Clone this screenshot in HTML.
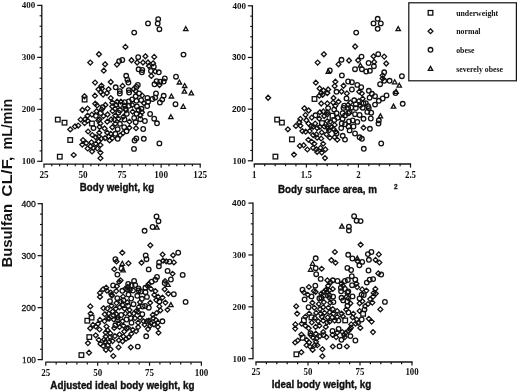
<!DOCTYPE html>
<html><head><meta charset="utf-8"><style>
html,body{margin:0;padding:0;background:#fff;width:520px;height:392px;overflow:hidden}
svg{display:block;will-change:transform}
text{fill:#111}
</style></head><body>
<svg width="520" height="392" viewBox="0 0 520 392"><line x1="41.8" y1="4.80" x2="41.8" y2="161.90" stroke="#111" stroke-width="1.3"/>
<line x1="37.20" y1="161.30" x2="41.8" y2="161.30" stroke="#111" stroke-width="1.2"/>
<line x1="39.60" y1="150.91" x2="41.8" y2="150.91" stroke="#111" stroke-width="1.1"/>
<line x1="39.60" y1="140.51" x2="41.8" y2="140.51" stroke="#111" stroke-width="1.1"/>
<line x1="39.60" y1="130.12" x2="41.8" y2="130.12" stroke="#111" stroke-width="1.1"/>
<line x1="39.60" y1="119.73" x2="41.8" y2="119.73" stroke="#111" stroke-width="1.1"/>
<line x1="37.20" y1="109.33" x2="41.8" y2="109.33" stroke="#111" stroke-width="1.2"/>
<line x1="39.60" y1="98.94" x2="41.8" y2="98.94" stroke="#111" stroke-width="1.1"/>
<line x1="39.60" y1="88.55" x2="41.8" y2="88.55" stroke="#111" stroke-width="1.1"/>
<line x1="39.60" y1="78.15" x2="41.8" y2="78.15" stroke="#111" stroke-width="1.1"/>
<line x1="39.60" y1="67.76" x2="41.8" y2="67.76" stroke="#111" stroke-width="1.1"/>
<line x1="37.20" y1="57.37" x2="41.8" y2="57.37" stroke="#111" stroke-width="1.2"/>
<line x1="39.60" y1="46.97" x2="41.8" y2="46.97" stroke="#111" stroke-width="1.1"/>
<line x1="39.60" y1="36.58" x2="41.8" y2="36.58" stroke="#111" stroke-width="1.1"/>
<line x1="39.60" y1="26.19" x2="41.8" y2="26.19" stroke="#111" stroke-width="1.1"/>
<line x1="39.60" y1="15.79" x2="41.8" y2="15.79" stroke="#111" stroke-width="1.1"/>
<line x1="37.20" y1="5.40" x2="41.8" y2="5.40" stroke="#111" stroke-width="1.2"/>
<text x="35.2" y="164.30" text-anchor="end" font-family="Liberation Serif" font-weight="bold" font-size="9">100</text>
<text x="35.2" y="112.33" text-anchor="end" font-family="Liberation Serif" font-weight="bold" font-size="9">200</text>
<text x="35.2" y="60.37" text-anchor="end" font-family="Liberation Serif" font-weight="bold" font-size="9">300</text>
<text x="35.2" y="8.40" text-anchor="end" font-family="Liberation Serif" font-weight="bold" font-size="9">400</text>
<line x1="43.40" y1="164.1" x2="200.80" y2="164.1" stroke="#111" stroke-width="1.3"/>
<line x1="44.00" y1="164.1" x2="44.00" y2="167.70" stroke="#111" stroke-width="1.2"/>
<line x1="51.81" y1="164.1" x2="51.81" y2="166.30" stroke="#111" stroke-width="1.2"/>
<line x1="59.62" y1="164.1" x2="59.62" y2="166.30" stroke="#111" stroke-width="1.2"/>
<line x1="67.43" y1="164.1" x2="67.43" y2="166.30" stroke="#111" stroke-width="1.2"/>
<line x1="75.24" y1="164.1" x2="75.24" y2="166.30" stroke="#111" stroke-width="1.2"/>
<line x1="83.05" y1="164.1" x2="83.05" y2="167.70" stroke="#111" stroke-width="1.2"/>
<line x1="90.86" y1="164.1" x2="90.86" y2="166.30" stroke="#111" stroke-width="1.2"/>
<line x1="98.67" y1="164.1" x2="98.67" y2="166.30" stroke="#111" stroke-width="1.2"/>
<line x1="106.48" y1="164.1" x2="106.48" y2="166.30" stroke="#111" stroke-width="1.2"/>
<line x1="114.29" y1="164.1" x2="114.29" y2="166.30" stroke="#111" stroke-width="1.2"/>
<line x1="122.10" y1="164.1" x2="122.10" y2="167.70" stroke="#111" stroke-width="1.2"/>
<line x1="129.91" y1="164.1" x2="129.91" y2="166.30" stroke="#111" stroke-width="1.2"/>
<line x1="137.72" y1="164.1" x2="137.72" y2="166.30" stroke="#111" stroke-width="1.2"/>
<line x1="145.53" y1="164.1" x2="145.53" y2="166.30" stroke="#111" stroke-width="1.2"/>
<line x1="153.34" y1="164.1" x2="153.34" y2="166.30" stroke="#111" stroke-width="1.2"/>
<line x1="161.15" y1="164.1" x2="161.15" y2="167.70" stroke="#111" stroke-width="1.2"/>
<line x1="168.96" y1="164.1" x2="168.96" y2="166.30" stroke="#111" stroke-width="1.2"/>
<line x1="176.77" y1="164.1" x2="176.77" y2="166.30" stroke="#111" stroke-width="1.2"/>
<line x1="184.58" y1="164.1" x2="184.58" y2="166.30" stroke="#111" stroke-width="1.2"/>
<line x1="192.39" y1="164.1" x2="192.39" y2="166.30" stroke="#111" stroke-width="1.2"/>
<line x1="200.20" y1="164.1" x2="200.20" y2="167.70" stroke="#111" stroke-width="1.2"/>
<text transform="translate(44.00,177.5) scale(0.92,1)" text-anchor="middle" font-family="Liberation Serif" font-weight="bold" font-size="10">25</text>
<text transform="translate(83.05,177.5) scale(0.92,1)" text-anchor="middle" font-family="Liberation Serif" font-weight="bold" font-size="10">50</text>
<text transform="translate(122.10,177.5) scale(0.92,1)" text-anchor="middle" font-family="Liberation Serif" font-weight="bold" font-size="10">75</text>
<text transform="translate(161.15,177.5) scale(0.92,1)" text-anchor="middle" font-family="Liberation Serif" font-weight="bold" font-size="10">100</text>
<text transform="translate(200.20,177.5) scale(0.92,1)" text-anchor="middle" font-family="Liberation Serif" font-weight="bold" font-size="10">125</text>
<line x1="252.4" y1="5.20" x2="252.4" y2="161.40" stroke="#111" stroke-width="1.3"/>
<line x1="247.80" y1="160.80" x2="252.4" y2="160.80" stroke="#111" stroke-width="1.2"/>
<line x1="250.20" y1="150.47" x2="252.4" y2="150.47" stroke="#111" stroke-width="1.1"/>
<line x1="250.20" y1="140.13" x2="252.4" y2="140.13" stroke="#111" stroke-width="1.1"/>
<line x1="250.20" y1="129.80" x2="252.4" y2="129.80" stroke="#111" stroke-width="1.1"/>
<line x1="250.20" y1="119.47" x2="252.4" y2="119.47" stroke="#111" stroke-width="1.1"/>
<line x1="247.80" y1="109.13" x2="252.4" y2="109.13" stroke="#111" stroke-width="1.2"/>
<line x1="250.20" y1="98.80" x2="252.4" y2="98.80" stroke="#111" stroke-width="1.1"/>
<line x1="250.20" y1="88.47" x2="252.4" y2="88.47" stroke="#111" stroke-width="1.1"/>
<line x1="250.20" y1="78.13" x2="252.4" y2="78.13" stroke="#111" stroke-width="1.1"/>
<line x1="250.20" y1="67.80" x2="252.4" y2="67.80" stroke="#111" stroke-width="1.1"/>
<line x1="247.80" y1="57.47" x2="252.4" y2="57.47" stroke="#111" stroke-width="1.2"/>
<line x1="250.20" y1="47.13" x2="252.4" y2="47.13" stroke="#111" stroke-width="1.1"/>
<line x1="250.20" y1="36.80" x2="252.4" y2="36.80" stroke="#111" stroke-width="1.1"/>
<line x1="250.20" y1="26.47" x2="252.4" y2="26.47" stroke="#111" stroke-width="1.1"/>
<line x1="250.20" y1="16.13" x2="252.4" y2="16.13" stroke="#111" stroke-width="1.1"/>
<line x1="247.80" y1="5.80" x2="252.4" y2="5.80" stroke="#111" stroke-width="1.2"/>
<text x="245.9" y="163.80" text-anchor="end" font-family="Liberation Serif" font-weight="bold" font-size="9">100</text>
<text x="245.9" y="112.13" text-anchor="end" font-family="Liberation Sans" font-weight="bold" font-size="8.4">200</text>
<text x="245.9" y="60.47" text-anchor="end" font-family="Liberation Sans" font-weight="bold" font-size="8.4">300</text>
<text x="245.9" y="8.80" text-anchor="end" font-family="Liberation Serif" font-weight="bold" font-size="9">400</text>
<line x1="253.70" y1="164.0" x2="411.10" y2="164.0" stroke="#111" stroke-width="1.3"/>
<line x1="254.30" y1="164.0" x2="254.30" y2="167.60" stroke="#111" stroke-width="1.2"/>
<line x1="264.71" y1="164.0" x2="264.71" y2="166.20" stroke="#111" stroke-width="1.2"/>
<line x1="275.13" y1="164.0" x2="275.13" y2="166.20" stroke="#111" stroke-width="1.2"/>
<line x1="285.54" y1="164.0" x2="285.54" y2="166.20" stroke="#111" stroke-width="1.2"/>
<line x1="295.95" y1="164.0" x2="295.95" y2="166.20" stroke="#111" stroke-width="1.2"/>
<line x1="306.37" y1="164.0" x2="306.37" y2="167.60" stroke="#111" stroke-width="1.2"/>
<line x1="316.78" y1="164.0" x2="316.78" y2="166.20" stroke="#111" stroke-width="1.2"/>
<line x1="327.19" y1="164.0" x2="327.19" y2="166.20" stroke="#111" stroke-width="1.2"/>
<line x1="337.61" y1="164.0" x2="337.61" y2="166.20" stroke="#111" stroke-width="1.2"/>
<line x1="348.02" y1="164.0" x2="348.02" y2="166.20" stroke="#111" stroke-width="1.2"/>
<line x1="358.43" y1="164.0" x2="358.43" y2="167.60" stroke="#111" stroke-width="1.2"/>
<line x1="368.85" y1="164.0" x2="368.85" y2="166.20" stroke="#111" stroke-width="1.2"/>
<line x1="379.26" y1="164.0" x2="379.26" y2="166.20" stroke="#111" stroke-width="1.2"/>
<line x1="389.67" y1="164.0" x2="389.67" y2="166.20" stroke="#111" stroke-width="1.2"/>
<line x1="400.09" y1="164.0" x2="400.09" y2="166.20" stroke="#111" stroke-width="1.2"/>
<line x1="410.50" y1="164.0" x2="410.50" y2="167.60" stroke="#111" stroke-width="1.2"/>
<text transform="translate(254.30,177.5) scale(0.95,1)" text-anchor="middle" font-family="Liberation Serif" font-weight="bold" font-size="9.3">1</text>
<text transform="translate(306.37,177.5) scale(0.95,1)" text-anchor="middle" font-family="Liberation Serif" font-weight="bold" font-size="9.3">1.5</text>
<text transform="translate(358.43,177.5) scale(0.95,1)" text-anchor="middle" font-family="Liberation Serif" font-weight="bold" font-size="9.3">2</text>
<text transform="translate(410.50,177.5) scale(0.95,1)" text-anchor="middle" font-family="Liberation Serif" font-weight="bold" font-size="9.3">2.5</text>
<line x1="42.2" y1="203.10" x2="42.2" y2="360.20" stroke="#111" stroke-width="1.3"/>
<line x1="37.60" y1="359.60" x2="42.2" y2="359.60" stroke="#111" stroke-width="1.2"/>
<line x1="40.00" y1="349.21" x2="42.2" y2="349.21" stroke="#111" stroke-width="1.1"/>
<line x1="40.00" y1="338.81" x2="42.2" y2="338.81" stroke="#111" stroke-width="1.1"/>
<line x1="40.00" y1="328.42" x2="42.2" y2="328.42" stroke="#111" stroke-width="1.1"/>
<line x1="40.00" y1="318.03" x2="42.2" y2="318.03" stroke="#111" stroke-width="1.1"/>
<line x1="37.60" y1="307.63" x2="42.2" y2="307.63" stroke="#111" stroke-width="1.2"/>
<line x1="40.00" y1="297.24" x2="42.2" y2="297.24" stroke="#111" stroke-width="1.1"/>
<line x1="40.00" y1="286.85" x2="42.2" y2="286.85" stroke="#111" stroke-width="1.1"/>
<line x1="40.00" y1="276.45" x2="42.2" y2="276.45" stroke="#111" stroke-width="1.1"/>
<line x1="40.00" y1="266.06" x2="42.2" y2="266.06" stroke="#111" stroke-width="1.1"/>
<line x1="37.60" y1="255.67" x2="42.2" y2="255.67" stroke="#111" stroke-width="1.2"/>
<line x1="40.00" y1="245.27" x2="42.2" y2="245.27" stroke="#111" stroke-width="1.1"/>
<line x1="40.00" y1="234.88" x2="42.2" y2="234.88" stroke="#111" stroke-width="1.1"/>
<line x1="40.00" y1="224.49" x2="42.2" y2="224.49" stroke="#111" stroke-width="1.1"/>
<line x1="40.00" y1="214.09" x2="42.2" y2="214.09" stroke="#111" stroke-width="1.1"/>
<line x1="37.60" y1="203.70" x2="42.2" y2="203.70" stroke="#111" stroke-width="1.2"/>
<text x="35.9" y="362.60" text-anchor="end" font-family="Liberation Serif" font-weight="normal" font-size="9.2" stroke="#111" stroke-width="0.3">100</text>
<text x="35.9" y="310.63" text-anchor="end" font-family="Liberation Sans" font-weight="normal" font-size="8.6" stroke="#111" stroke-width="0.3">200</text>
<text x="35.9" y="258.67" text-anchor="end" font-family="Liberation Sans" font-weight="normal" font-size="8.6" stroke="#111" stroke-width="0.3">300</text>
<text x="35.9" y="206.70" text-anchor="end" font-family="Liberation Sans" font-weight="normal" font-size="8.6" stroke="#111" stroke-width="0.3">400</text>
<line x1="45.20" y1="362.2" x2="202.00" y2="362.2" stroke="#111" stroke-width="1.3"/>
<line x1="45.80" y1="362.2" x2="45.80" y2="365.80" stroke="#111" stroke-width="1.2"/>
<line x1="56.17" y1="362.2" x2="56.17" y2="364.40" stroke="#111" stroke-width="1.2"/>
<line x1="66.55" y1="362.2" x2="66.55" y2="364.40" stroke="#111" stroke-width="1.2"/>
<line x1="76.92" y1="362.2" x2="76.92" y2="364.40" stroke="#111" stroke-width="1.2"/>
<line x1="87.29" y1="362.2" x2="87.29" y2="364.40" stroke="#111" stroke-width="1.2"/>
<line x1="97.67" y1="362.2" x2="97.67" y2="365.80" stroke="#111" stroke-width="1.2"/>
<line x1="108.04" y1="362.2" x2="108.04" y2="364.40" stroke="#111" stroke-width="1.2"/>
<line x1="118.41" y1="362.2" x2="118.41" y2="364.40" stroke="#111" stroke-width="1.2"/>
<line x1="128.79" y1="362.2" x2="128.79" y2="364.40" stroke="#111" stroke-width="1.2"/>
<line x1="139.16" y1="362.2" x2="139.16" y2="364.40" stroke="#111" stroke-width="1.2"/>
<line x1="149.53" y1="362.2" x2="149.53" y2="365.80" stroke="#111" stroke-width="1.2"/>
<line x1="159.91" y1="362.2" x2="159.91" y2="364.40" stroke="#111" stroke-width="1.2"/>
<line x1="170.28" y1="362.2" x2="170.28" y2="364.40" stroke="#111" stroke-width="1.2"/>
<line x1="180.65" y1="362.2" x2="180.65" y2="364.40" stroke="#111" stroke-width="1.2"/>
<line x1="191.03" y1="362.2" x2="191.03" y2="364.40" stroke="#111" stroke-width="1.2"/>
<line x1="201.40" y1="362.2" x2="201.40" y2="365.80" stroke="#111" stroke-width="1.2"/>
<text transform="translate(45.80,375.5) scale(0.97,1)" text-anchor="middle" font-family="Liberation Serif" font-weight="bold" font-size="9.3">25</text>
<text transform="translate(97.67,375.5) scale(0.97,1)" text-anchor="middle" font-family="Liberation Serif" font-weight="bold" font-size="9.3">50</text>
<text transform="translate(149.53,375.5) scale(0.97,1)" text-anchor="middle" font-family="Liberation Serif" font-weight="bold" font-size="9.3">75</text>
<text transform="translate(201.40,375.5) scale(0.97,1)" text-anchor="middle" font-family="Liberation Serif" font-weight="bold" font-size="9.3">100</text>
<line x1="253.0" y1="202.50" x2="253.0" y2="359.30" stroke="#111" stroke-width="1.3"/>
<line x1="248.40" y1="358.70" x2="253.0" y2="358.70" stroke="#111" stroke-width="1.2"/>
<line x1="250.80" y1="348.33" x2="253.0" y2="348.33" stroke="#111" stroke-width="1.1"/>
<line x1="250.80" y1="337.95" x2="253.0" y2="337.95" stroke="#111" stroke-width="1.1"/>
<line x1="250.80" y1="327.58" x2="253.0" y2="327.58" stroke="#111" stroke-width="1.1"/>
<line x1="250.80" y1="317.21" x2="253.0" y2="317.21" stroke="#111" stroke-width="1.1"/>
<line x1="248.40" y1="306.83" x2="253.0" y2="306.83" stroke="#111" stroke-width="1.2"/>
<line x1="250.80" y1="296.46" x2="253.0" y2="296.46" stroke="#111" stroke-width="1.1"/>
<line x1="250.80" y1="286.09" x2="253.0" y2="286.09" stroke="#111" stroke-width="1.1"/>
<line x1="250.80" y1="275.71" x2="253.0" y2="275.71" stroke="#111" stroke-width="1.1"/>
<line x1="250.80" y1="265.34" x2="253.0" y2="265.34" stroke="#111" stroke-width="1.1"/>
<line x1="248.40" y1="254.97" x2="253.0" y2="254.97" stroke="#111" stroke-width="1.2"/>
<line x1="250.80" y1="244.59" x2="253.0" y2="244.59" stroke="#111" stroke-width="1.1"/>
<line x1="250.80" y1="234.22" x2="253.0" y2="234.22" stroke="#111" stroke-width="1.1"/>
<line x1="250.80" y1="223.85" x2="253.0" y2="223.85" stroke="#111" stroke-width="1.1"/>
<line x1="250.80" y1="213.47" x2="253.0" y2="213.47" stroke="#111" stroke-width="1.1"/>
<line x1="248.40" y1="203.10" x2="253.0" y2="203.10" stroke="#111" stroke-width="1.2"/>
<text x="246.0" y="361.70" text-anchor="end" font-family="Liberation Serif" font-weight="bold" font-size="9">100</text>
<text x="246.0" y="309.83" text-anchor="end" font-family="Liberation Serif" font-weight="bold" font-size="9">200</text>
<text x="246.0" y="257.97" text-anchor="end" font-family="Liberation Serif" font-weight="bold" font-size="9">300</text>
<text x="246.0" y="206.10" text-anchor="end" font-family="Liberation Sans" font-weight="bold" font-size="8.4">400</text>
<line x1="255.40" y1="362.0" x2="412.60" y2="362.0" stroke="#111" stroke-width="1.3"/>
<line x1="256.00" y1="362.0" x2="256.00" y2="365.60" stroke="#111" stroke-width="1.2"/>
<line x1="266.40" y1="362.0" x2="266.40" y2="364.20" stroke="#111" stroke-width="1.2"/>
<line x1="276.80" y1="362.0" x2="276.80" y2="364.20" stroke="#111" stroke-width="1.2"/>
<line x1="287.20" y1="362.0" x2="287.20" y2="364.20" stroke="#111" stroke-width="1.2"/>
<line x1="297.60" y1="362.0" x2="297.60" y2="364.20" stroke="#111" stroke-width="1.2"/>
<line x1="308.00" y1="362.0" x2="308.00" y2="365.60" stroke="#111" stroke-width="1.2"/>
<line x1="318.40" y1="362.0" x2="318.40" y2="364.20" stroke="#111" stroke-width="1.2"/>
<line x1="328.80" y1="362.0" x2="328.80" y2="364.20" stroke="#111" stroke-width="1.2"/>
<line x1="339.20" y1="362.0" x2="339.20" y2="364.20" stroke="#111" stroke-width="1.2"/>
<line x1="349.60" y1="362.0" x2="349.60" y2="364.20" stroke="#111" stroke-width="1.2"/>
<line x1="360.00" y1="362.0" x2="360.00" y2="365.60" stroke="#111" stroke-width="1.2"/>
<line x1="370.40" y1="362.0" x2="370.40" y2="364.20" stroke="#111" stroke-width="1.2"/>
<line x1="380.80" y1="362.0" x2="380.80" y2="364.20" stroke="#111" stroke-width="1.2"/>
<line x1="391.20" y1="362.0" x2="391.20" y2="364.20" stroke="#111" stroke-width="1.2"/>
<line x1="401.60" y1="362.0" x2="401.60" y2="364.20" stroke="#111" stroke-width="1.2"/>
<line x1="412.00" y1="362.0" x2="412.00" y2="365.60" stroke="#111" stroke-width="1.2"/>
<text transform="translate(256.00,374.7) scale(0.95,1)" text-anchor="middle" font-family="Liberation Serif" font-weight="bold" font-size="9.3">25</text>
<text transform="translate(308.00,374.7) scale(0.95,1)" text-anchor="middle" font-family="Liberation Serif" font-weight="bold" font-size="9.3">50</text>
<text transform="translate(360.00,374.7) scale(0.95,1)" text-anchor="middle" font-family="Liberation Serif" font-weight="bold" font-size="9.3">75</text>
<text transform="translate(412.00,374.7) scale(0.95,1)" text-anchor="middle" font-family="Liberation Serif" font-weight="bold" font-size="9.3">100</text>
<text x="79.8" y="191.3" font-family="Liberation Sans" font-weight="bold" font-size="10" stroke="#111" stroke-width="0.35" textLength="74.4" lengthAdjust="spacingAndGlyphs">Body weight, kg</text>
<text x="278.0" y="193.0" font-family="Liberation Sans" font-weight="bold" font-size="10" stroke="#111" stroke-width="0.35" textLength="98.9" lengthAdjust="spacingAndGlyphs">Body surface area, m</text>
<text x="394.0" y="189.4" font-family="Liberation Sans" font-weight="bold" font-size="6.4" stroke="#111" stroke-width="0.3">2</text>
<text x="50.3" y="389.3" font-family="Liberation Sans" font-weight="bold" font-size="10" stroke="#111" stroke-width="0.35" textLength="144.2" lengthAdjust="spacingAndGlyphs">Adjusted ideal body weight, kg</text>
<text x="271.7" y="387.9" font-family="Liberation Sans" font-weight="bold" font-size="10" stroke="#111" stroke-width="0.35" textLength="99.6" lengthAdjust="spacingAndGlyphs">Ideal body weight, kg</text>
<text transform="translate(12.1,267.5) rotate(-90)" x="0" y="0" font-family="Liberation Sans" font-weight="bold" font-size="14.2" textLength="63.5" lengthAdjust="spacingAndGlyphs">Busulfan</text>
<text transform="translate(12.1,196.8) rotate(-90)" x="0" y="0" font-family="Liberation Sans" font-weight="bold" font-size="14.2" textLength="40.3" lengthAdjust="spacingAndGlyphs">CL/F,</text>
<text transform="translate(12.1,149.6) rotate(-90)" x="0" y="0" font-family="Liberation Sans" font-weight="bold" font-size="14.2" textLength="50.9" lengthAdjust="spacingAndGlyphs">mL/min</text>
<rect x="408.8" y="2.8" width="107.6" height="78" fill="none" stroke="#111" stroke-width="1.2"/>
<g fill="none" stroke="#111" stroke-width="1.3">
<rect x="428.2" y="10.5" width="4.6" height="4.6"/>
<path d="M430.5 28.8L432.9 31.2L430.5 33.6L428.1 31.2Z"/>
<circle cx="430.5" cy="49.8" r="2.3"/>
<path d="M430.5 66.4L432.7 70.4L428.3 70.4Z"/>
</g>
<text x="456.2" y="15.8" font-family="Liberation Serif" font-weight="bold" font-size="7.8">underweight</text>
<text x="456.2" y="34.2" font-family="Liberation Serif" font-weight="bold" font-size="7.8">normal</text>
<text x="456.2" y="52.8" font-family="Liberation Serif" font-weight="bold" font-size="7.8">obese</text>
<text x="456.2" y="71.6" font-family="Liberation Serif" font-weight="bold" font-size="7.8">severely obese</text>
<g fill="none" stroke="#111" stroke-width="1.3">
<circle cx="134.2" cy="32.6" r="2.3"/>
<circle cx="148.0" cy="23.4" r="2.3"/>
<circle cx="158.2" cy="19.2" r="2.3"/>
<circle cx="157.7" cy="23.5" r="2.3"/>
<circle cx="159.4" cy="29.2" r="2.3"/>
<path d="M185.8 26.7L188.0 30.7L183.6 30.7Z"/>
<path d="M125.4 44.4L127.9 46.9L125.4 49.4L123.0 46.9Z"/>
<circle cx="183.5" cy="54.6" r="2.3"/>
<circle cx="138.2" cy="57.2" r="2.3"/>
<path d="M145.4 53.8L147.8 56.2L145.4 58.7L143.0 56.2Z"/>
<path d="M154.2 54.4L156.6 56.9L154.2 59.4L151.8 56.9Z"/>
<path d="M131.5 57.8L133.9 60.3L131.5 62.8L129.1 60.3Z"/>
<circle cx="122.3" cy="60.0" r="2.3"/>
<path d="M98.9 51.8L101.4 54.3L98.9 56.8L96.5 54.3Z"/>
<path d="M90.3 60.1L92.8 62.6L90.3 65.0L87.8 62.6Z"/>
<path d="M105.1 61.8L107.5 64.2L105.1 66.7L102.6 64.2Z"/>
<path d="M103.8 68.3L106.2 70.8L103.8 73.2L101.3 70.8Z"/>
<path d="M116.9 62.1L119.4 64.6L116.9 67.0L114.5 64.6Z"/>
<circle cx="119.2" cy="61.1" r="2.3"/>
<path d="M137.1 60.0L139.5 62.5L137.1 65.0L134.7 62.5Z"/>
<circle cx="138.6" cy="69.3" r="2.3"/>
<circle cx="126.2" cy="75.8" r="2.3"/>
<path d="M95.1 80.1L97.5 82.6L95.1 85.0L92.6 82.6Z"/>
<path d="M110.8 79.5L113.2 82.0L110.8 84.5L108.3 82.0Z"/>
<path d="M101.5 83.2L104.0 85.7L101.5 88.2L99.0 85.7Z"/>
<path d="M98.5 86.8L101.0 89.2L98.5 91.7L96.0 89.2Z"/>
<path d="M100.8 89.5L103.2 92.0L100.8 94.5L98.3 92.0Z"/>
<path d="M108.5 86.8L111.0 89.2L108.5 91.7L106.0 89.2Z"/>
<path d="M106.9 90.6L109.4 93.1L106.9 95.5L104.5 93.1Z"/>
<path d="M94.9 93.3L97.4 95.8L94.9 98.2L92.5 95.8Z"/>
<path d="M103.1 92.1L105.5 94.6L103.1 97.0L100.6 94.6Z"/>
<path d="M84.4 93.8L86.9 96.2L84.4 98.7L82.0 96.2Z"/>
<path d="M110.8 95.6L113.2 98.1L110.8 100.5L108.3 98.1Z"/>
<path d="M143.0 60.0L145.4 62.5L143.0 65.0L140.6 62.5Z"/>
<path d="M148.0 60.0L150.4 62.5L148.0 65.0L145.6 62.5Z"/>
<path d="M148.9 63.5L151.3 66.0L148.9 68.5L146.5 66.0Z"/>
<path d="M153.1 60.8L155.5 63.2L153.1 65.7L150.7 63.2Z"/>
<circle cx="153.8" cy="66.7" r="2.3"/>
<circle cx="142.3" cy="70.0" r="2.3"/>
<circle cx="141.9" cy="72.3" r="2.3"/>
<circle cx="151.0" cy="71.0" r="2.3"/>
<path d="M155.2 69.0L157.6 71.4L155.2 73.9L152.8 71.4Z"/>
<circle cx="158.8" cy="72.3" r="2.3"/>
<path d="M151.3 73.5L153.8 75.9L151.3 78.4L148.9 75.9Z"/>
<circle cx="164.8" cy="78.4" r="2.3"/>
<circle cx="176.0" cy="76.7" r="2.3"/>
<circle cx="163.7" cy="81.5" r="2.3"/>
<circle cx="160.2" cy="81.7" r="2.3"/>
<circle cx="156.6" cy="81.2" r="2.3"/>
<circle cx="154.5" cy="84.3" r="2.3"/>
<path d="M159.5 82.5L161.9 85.0L159.5 87.5L157.1 85.0Z"/>
<path d="M179.4 80.0L181.6 84.0L177.2 84.0Z"/>
<path d="M184.7 83.5L186.9 87.5L182.5 87.5Z"/>
<path d="M184.4 89.1L186.6 93.1L182.2 93.1Z"/>
<path d="M191.3 90.9L193.5 94.9L189.1 94.9Z"/>
<path d="M171.4 94.0L173.6 98.0L169.2 98.0Z"/>
<circle cx="156.0" cy="93.4" r="2.3"/>
<circle cx="155.2" cy="97.6" r="2.3"/>
<circle cx="163.7" cy="95.8" r="2.3"/>
<rect x="55.5" y="117.3" width="4.6" height="4.6"/>
<rect x="62.2" y="120.4" width="4.6" height="4.6"/>
<path d="M70.3 127.0L72.8 129.4L70.3 131.8L67.8 129.4Z"/>
<path d="M75.0 124.0L77.5 126.5L75.0 128.9L72.5 126.5Z"/>
<path d="M78.2 123.1L80.7 125.6L78.2 128.0L75.8 125.6Z"/>
<path d="M80.7 117.1L83.2 119.6L80.7 122.0L78.2 119.6Z"/>
<path d="M85.0 116.8L87.5 119.2L85.0 121.7L82.5 119.2Z"/>
<path d="M87.6 113.3L90.0 115.8L87.6 118.2L85.1 115.8Z"/>
<path d="M82.4 107.5L84.9 110.0L82.4 112.5L80.0 110.0Z"/>
<path d="M87.6 106.1L90.0 108.6L87.6 111.0L85.1 108.6Z"/>
<rect x="82.3" y="97.3" width="4.6" height="4.6"/>
<path d="M95.3 101.2L97.8 103.7L95.3 106.2L92.8 103.7Z"/>
<path d="M97.1 103.0L99.5 105.4L97.1 107.9L94.6 105.4Z"/>
<circle cx="102.7" cy="107.2" r="2.3"/>
<path d="M91.9 112.1L94.4 114.6L91.9 117.0L89.5 114.6Z"/>
<circle cx="95.9" cy="115.8" r="2.3"/>
<path d="M96.5 108.8L99.0 111.2L96.5 113.7L94.0 111.2Z"/>
<path d="M98.2 118.0L100.7 120.4L98.2 122.9L95.8 120.4Z"/>
<rect x="67.9" y="137.7" width="4.6" height="4.6"/>
<path d="M112.3 100.2L114.8 102.7L112.3 105.2L109.8 102.7Z"/>
<path d="M105.4 102.5L107.9 105.0L105.4 107.5L103.0 105.0Z"/>
<path d="M112.3 104.0L114.8 106.5L112.3 109.0L109.8 106.5Z"/>
<path d="M116.2 102.5L118.7 105.0L116.2 107.5L113.8 105.0Z"/>
<circle cx="120.4" cy="105.0" r="2.3"/>
<path d="M124.6 103.3L127.0 105.8L124.6 108.2L122.1 105.8Z"/>
<circle cx="128.8" cy="105.8" r="2.3"/>
<path d="M132.3 102.5L134.8 105.0L132.3 107.5L129.9 105.0Z"/>
<circle cx="136.9" cy="106.5" r="2.3"/>
<path d="M115.0 106.3L117.5 108.8L115.0 111.2L112.5 108.8Z"/>
<circle cx="125.4" cy="108.8" r="2.3"/>
<circle cx="175.5" cy="104.2" r="2.3"/>
<path d="M183.2 104.3L185.4 108.3L181.0 108.3Z"/>
<path d="M170.9 114.7L173.1 118.7L168.7 118.7Z"/>
<circle cx="159.9" cy="102.5" r="2.3"/>
<circle cx="162.2" cy="99.6" r="2.3"/>
<circle cx="152.4" cy="99.0" r="2.3"/>
<circle cx="147.2" cy="106.0" r="2.3"/>
<circle cx="150.1" cy="114.0" r="2.3"/>
<circle cx="154.2" cy="118.7" r="2.3"/>
<circle cx="157.0" cy="123.3" r="2.3"/>
<circle cx="144.9" cy="121.0" r="2.3"/>
<circle cx="140.3" cy="119.2" r="2.3"/>
<path d="M142.0 109.8L144.4 112.3L142.0 114.8L139.6 112.3Z"/>
<path d="M140.3 112.8L142.8 115.2L140.3 117.7L137.9 115.2Z"/>
<circle cx="141.5" cy="108.8" r="2.3"/>
<circle cx="143.2" cy="129.0" r="2.3"/>
<circle cx="143.8" cy="138.8" r="2.3"/>
<rect x="57.5" y="154.4" width="4.6" height="4.6"/>
<path d="M73.7 152.6L76.2 155.0L73.7 157.4L71.2 155.0Z"/>
<path d="M100.4 155.8L102.9 158.2L100.4 160.6L98.0 158.2Z"/>
<path d="M92.1 149.1L94.5 151.5L92.1 153.9L89.6 151.5Z"/>
<path d="M100.4 150.2L102.9 152.6L100.4 155.0L98.0 152.6Z"/>
<path d="M136.0 125.7L138.4 128.2L136.0 130.6L133.6 128.2Z"/>
<path d="M129.4 125.3L131.8 127.8L129.4 130.2L127.0 127.8Z"/>
<circle cx="126.5" cy="131.3" r="2.3"/>
<circle cx="136.3" cy="138.5" r="2.3"/>
<circle cx="134.6" cy="140.5" r="2.3"/>
<circle cx="134.0" cy="148.9" r="2.3"/>
<circle cx="159.4" cy="143.4" r="2.3"/>
<path d="M120.2 132.9L122.7 135.3L120.2 137.8L117.8 135.3Z"/>
<path d="M123.1 130.6L125.5 133.0L123.1 135.4L120.6 133.0Z"/>
<circle cx="124.2" cy="127.2" r="2.3"/>
<path d="M101.9 86.1L104.4 88.6L101.9 91.0L99.5 88.6Z"/>
<rect x="89.6" y="121.2" width="4.6" height="4.6"/>
<path d="M84.6 120.6L87.0 123.1L84.6 125.5L82.1 123.1Z"/>
<path d="M87.7 118.3L90.2 120.8L87.7 123.2L85.2 120.8Z"/>
<circle cx="93.5" cy="128.1" r="2.3"/>
<path d="M88.1 129.1L90.5 131.5L88.1 133.9L85.6 131.5Z"/>
<path d="M99.6 124.5L102.0 126.9L99.6 129.3L97.1 126.9Z"/>
<path d="M104.6 126.0L107.0 128.5L104.6 130.9L102.1 128.5Z"/>
<path d="M112.3 124.8L114.8 127.3L112.3 129.8L109.8 127.3Z"/>
<circle cx="117.7" cy="129.2" r="2.3"/>
<path d="M99.2 130.2L101.7 132.7L99.2 135.1L96.8 132.7Z"/>
<path d="M107.3 130.2L109.8 132.7L107.3 135.1L104.8 132.7Z"/>
<path d="M110.8 131.4L113.2 133.8L110.8 136.2L108.3 133.8Z"/>
<path d="M92.3 132.6L94.8 135.0L92.3 137.4L89.8 135.0Z"/>
<path d="M95.8 134.9L98.2 137.3L95.8 139.8L93.3 137.3Z"/>
<path d="M98.8 134.1L101.2 136.5L98.8 138.9L96.3 136.5Z"/>
<path d="M101.5 136.1L104.0 138.5L101.5 140.9L99.0 138.5Z"/>
<path d="M105.0 135.7L107.5 138.1L105.0 140.5L102.5 138.1Z"/>
<path d="M108.8 134.1L111.2 136.5L108.8 138.9L106.3 136.5Z"/>
<path d="M112.3 135.7L114.8 138.1L112.3 140.5L109.8 138.1Z"/>
<circle cx="115.4" cy="133.8" r="2.3"/>
<circle cx="117.7" cy="138.8" r="2.3"/>
<path d="M109.6 138.0L112.0 140.4L109.6 142.8L107.1 140.4Z"/>
<path d="M83.1 137.6L85.5 140.0L83.1 142.4L80.6 140.0Z"/>
<path d="M86.2 140.7L88.7 143.1L86.2 145.5L83.8 143.1Z"/>
<path d="M82.3 142.2L84.8 144.6L82.3 147.0L79.8 144.6Z"/>
<path d="M91.5 139.9L94.0 142.3L91.5 144.8L89.0 142.3Z"/>
<path d="M95.8 141.4L98.2 143.8L95.8 146.2L93.3 143.8Z"/>
<path d="M98.5 139.1L101.0 141.5L98.5 143.9L96.0 141.5Z"/>
<path d="M100.4 142.6L102.9 145.0L100.4 147.4L98.0 145.0Z"/>
<path d="M90.4 143.8L92.9 146.2L90.4 148.6L88.0 146.2Z"/>
<path d="M93.5 145.7L96.0 148.1L93.5 150.5L91.0 148.1Z"/>
<path d="M87.7 146.1L90.2 148.5L87.7 150.9L85.2 148.5Z"/>
<path d="M97.3 146.1L99.8 148.5L97.3 150.9L94.8 148.5Z"/>
<circle cx="128.4" cy="82.5" r="2.3"/>
<circle cx="127.4" cy="79.7" r="2.3"/>
<path d="M122.6 83.5L125.0 85.9L122.6 88.4L120.1 85.9Z"/>
<circle cx="115.7" cy="87.3" r="2.3"/>
<circle cx="119.8" cy="91.1" r="2.3"/>
<circle cx="119.8" cy="93.5" r="2.3"/>
<circle cx="128.8" cy="90.1" r="2.3"/>
<circle cx="129.1" cy="92.5" r="2.3"/>
<path d="M133.6 86.5L136.0 89.0L133.6 91.5L131.2 89.0Z"/>
<circle cx="137.8" cy="84.9" r="2.3"/>
<circle cx="136.4" cy="87.0" r="2.3"/>
<path d="M135.7 88.6L138.1 91.1L135.7 93.5L133.2 91.1Z"/>
<circle cx="139.1" cy="93.5" r="2.3"/>
<path d="M142.2 93.1L144.6 95.6L142.2 98.0L139.8 95.6Z"/>
<circle cx="135.7" cy="96.3" r="2.3"/>
<circle cx="132.2" cy="99.4" r="2.3"/>
<circle cx="136.4" cy="100.8" r="2.3"/>
<circle cx="141.2" cy="100.1" r="2.3"/>
<circle cx="147.4" cy="98.0" r="2.3"/>
<circle cx="148.1" cy="101.8" r="2.3"/>
<path d="M144.0 100.8L146.4 103.2L144.0 105.7L141.6 103.2Z"/>
<circle cx="128.8" cy="101.4" r="2.3"/>
<path d="M117.1 99.3L119.5 101.8L117.1 104.2L114.6 101.8Z"/>
<path d="M120.9 99.3L123.4 101.8L120.9 104.2L118.5 101.8Z"/>
<circle cx="124.7" cy="102.1" r="2.3"/>
<circle cx="100.7" cy="113.0" r="2.3"/>
<path d="M107.6 112.0L110.0 114.5L107.6 117.0L105.1 114.5Z"/>
<path d="M101.8 107.0L104.2 109.5L101.8 112.0L99.3 109.5Z"/>
<path d="M112.6 108.6L115.0 111.1L112.6 113.5L110.1 111.1Z"/>
<path d="M115.3 113.2L117.8 115.7L115.3 118.2L112.8 115.7Z"/>
<circle cx="119.9" cy="110.3" r="2.3"/>
<circle cx="118.4" cy="112.6" r="2.3"/>
<circle cx="126.8" cy="113.8" r="2.3"/>
<path d="M132.6 109.3L135.0 111.8L132.6 114.2L130.2 111.8Z"/>
<circle cx="136.5" cy="113.8" r="2.3"/>
<path d="M123.4 114.3L125.9 116.8L123.4 119.2L121.0 116.8Z"/>
<path d="M103.4 113.6L105.9 116.1L103.4 118.5L101.0 116.1Z"/>
<path d="M111.1 117.0L113.5 119.5L111.1 122.0L108.6 119.5Z"/>
<path d="M114.5 117.0L117.0 119.5L114.5 122.0L112.0 119.5Z"/>
<path d="M118.4 116.3L120.9 118.8L118.4 121.2L116.0 118.8Z"/>
<circle cx="124.5" cy="119.5" r="2.3"/>
<path d="M129.5 119.3L131.9 121.8L129.5 124.2L127.0 121.8Z"/>
<circle cx="135.7" cy="122.2" r="2.3"/>
<circle cx="134.2" cy="118.0" r="2.3"/>
<path d="M107.2 119.3L109.7 121.8L107.2 124.2L104.8 121.8Z"/>
<path d="M99.5 117.0L102.0 119.5L99.5 122.0L97.0 119.5Z"/>
<path d="M100.3 121.0L102.8 123.4L100.3 125.9L97.8 123.4Z"/>
<path d="M115.3 121.3L117.8 123.8L115.3 126.2L112.8 123.8Z"/>
<circle cx="119.9" cy="123.8" r="2.3"/>
<path d="M126.0 107.5L128.4 110.0L126.0 112.5L123.5 110.0Z"/>
<circle cx="138.5" cy="110.0" r="2.3"/>
<circle cx="377.7" cy="18.8" r="2.3"/>
<circle cx="373.5" cy="23.4" r="2.3"/>
<circle cx="380.8" cy="23.4" r="2.3"/>
<circle cx="377.7" cy="28.8" r="2.3"/>
<path d="M398.2 26.6L400.4 30.6L396.0 30.6Z"/>
<circle cx="356.2" cy="32.6" r="2.3"/>
<path d="M355.1 44.0L357.6 46.5L355.1 49.0L352.7 46.5Z"/>
<circle cx="361.5" cy="56.6" r="2.3"/>
<path d="M358.1 57.8L360.6 60.3L358.1 62.8L355.7 60.3Z"/>
<path d="M373.5 53.8L375.9 56.2L373.5 58.7L371.1 56.2Z"/>
<circle cx="378.2" cy="54.2" r="2.3"/>
<path d="M384.2 54.1L386.6 56.6L384.2 59.1L381.8 56.6Z"/>
<circle cx="341.5" cy="59.8" r="2.3"/>
<path d="M349.0 58.0L351.4 60.5L349.0 63.0L346.6 60.5Z"/>
<path d="M323.9 51.8L326.3 54.2L323.9 56.7L321.4 54.2Z"/>
<path d="M317.6 60.1L320.1 62.6L317.6 65.0L315.2 62.6Z"/>
<path d="M328.3 69.3L330.5 73.3L326.1 73.3Z"/>
<circle cx="329.8" cy="70.5" r="2.3"/>
<path d="M315.8 80.3L318.2 82.8L315.8 85.2L313.4 82.8Z"/>
<path d="M268.1 95.2L270.6 97.7L268.1 100.2L265.7 97.7Z"/>
<path d="M319.6 86.0L322.1 88.5L319.6 91.0L317.2 88.5Z"/>
<path d="M323.5 88.0L325.9 90.5L323.5 93.0L321.1 90.5Z"/>
<path d="M321.2 90.6L323.6 93.1L321.2 95.5L318.8 93.1Z"/>
<path d="M319.4 93.3L321.8 95.8L319.4 98.2L316.9 95.8Z"/>
<rect x="312.2" y="96.7" width="4.6" height="4.6"/>
<path d="M338.5 61.8L340.9 64.2L338.5 66.7L336.1 64.2Z"/>
<path d="M360.4 63.2L362.6 67.2L358.2 67.2Z"/>
<circle cx="368.6" cy="63.0" r="2.3"/>
<path d="M374.2 59.5L376.6 62.0L374.2 64.5L371.8 62.0Z"/>
<circle cx="373.9" cy="66.2" r="2.3"/>
<path d="M386.2 61.0L388.6 63.5L386.2 66.0L383.8 63.5Z"/>
<circle cx="355.0" cy="69.2" r="2.3"/>
<circle cx="361.9" cy="69.2" r="2.3"/>
<circle cx="366.2" cy="71.5" r="2.3"/>
<circle cx="369.9" cy="70.8" r="2.3"/>
<circle cx="341.9" cy="75.4" r="2.3"/>
<circle cx="384.2" cy="72.3" r="2.3"/>
<path d="M382.7 73.0L385.1 75.4L382.7 77.9L380.2 75.4Z"/>
<path d="M382.7 76.0L385.1 78.5L382.7 81.0L380.2 78.5Z"/>
<circle cx="384.2" cy="80.8" r="2.3"/>
<circle cx="389.6" cy="80.8" r="2.3"/>
<circle cx="380.1" cy="84.2" r="2.3"/>
<path d="M394.7 79.8L396.9 83.8L392.5 83.8Z"/>
<path d="M399.3 83.2L401.5 87.2L397.1 87.2Z"/>
<circle cx="401.9" cy="76.2" r="2.3"/>
<path d="M396.1 89.3L398.3 93.3L393.9 93.3Z"/>
<circle cx="395.5" cy="93.1" r="2.3"/>
<path d="M393.5 104.1L395.7 108.1L391.3 108.1Z"/>
<circle cx="402.7" cy="103.8" r="2.3"/>
<circle cx="368.8" cy="90.8" r="2.3"/>
<circle cx="371.9" cy="93.8" r="2.3"/>
<circle cx="375.0" cy="96.2" r="2.3"/>
<circle cx="369.6" cy="97.7" r="2.3"/>
<circle cx="386.5" cy="95.4" r="2.3"/>
<circle cx="382.7" cy="98.5" r="2.3"/>
<circle cx="378.8" cy="100.8" r="2.3"/>
<circle cx="375.0" cy="104.6" r="2.3"/>
<circle cx="365.8" cy="103.1" r="2.3"/>
<circle cx="368.1" cy="106.2" r="2.3"/>
<circle cx="362.7" cy="107.7" r="2.3"/>
<circle cx="351.2" cy="107.7" r="2.3"/>
<circle cx="343.5" cy="107.9" r="2.3"/>
<rect x="274.8" y="117.3" width="4.6" height="4.6"/>
<rect x="279.6" y="120.3" width="4.6" height="4.6"/>
<path d="M287.9 126.9L290.3 129.3L287.9 131.8L285.4 129.3Z"/>
<rect x="289.6" y="137.1" width="4.6" height="4.6"/>
<path d="M304.4 105.8L306.8 108.2L304.4 110.7L301.9 108.2Z"/>
<path d="M308.7 108.0L311.1 110.5L308.7 113.0L306.2 110.5Z"/>
<path d="M305.5 112.5L307.9 114.9L305.5 117.4L303.1 114.9Z"/>
<path d="M311.8 115.1L314.2 117.6L311.8 120.0L309.4 117.6Z"/>
<circle cx="315.5" cy="115.3" r="2.3"/>
<path d="M300.4 116.5L302.8 118.9L300.4 121.4L297.9 118.9Z"/>
<path d="M299.3 119.8L301.8 122.3L299.3 124.8L296.9 122.3Z"/>
<path d="M295.9 123.5L298.3 126.0L295.9 128.4L293.4 126.0Z"/>
<path d="M300.4 123.3L302.8 125.8L300.4 128.2L297.9 125.8Z"/>
<path d="M306.4 117.8L308.8 120.3L306.4 122.8L303.9 120.3Z"/>
<path d="M308.5 121.1L310.9 123.6L308.5 126.0L306.1 123.6Z"/>
<path d="M311.1 123.8L313.6 126.3L311.1 128.8L308.7 126.3Z"/>
<path d="M315.2 121.1L317.6 123.6L315.2 126.0L312.8 123.6Z"/>
<path d="M319.9 109.8L322.3 112.2L319.9 114.7L317.4 112.2Z"/>
<path d="M323.3 109.0L325.8 111.5L323.3 114.0L320.9 111.5Z"/>
<path d="M327.3 109.8L329.8 112.2L327.3 114.7L324.9 112.2Z"/>
<path d="M321.2 101.0L323.6 103.5L321.2 106.0L318.8 103.5Z"/>
<path d="M322.6 92.2L325.1 94.7L322.6 97.2L320.2 94.7Z"/>
<path d="M317.1 125.6L319.6 128.1L317.1 130.5L314.7 128.1Z"/>
<path d="M380.4 113.9L382.6 117.9L378.2 117.9Z"/>
<circle cx="378.8" cy="120.4" r="2.3"/>
<circle cx="378.5" cy="123.5" r="2.3"/>
<circle cx="363.5" cy="118.8" r="2.3"/>
<circle cx="370.8" cy="118.5" r="2.3"/>
<path d="M363.5 125.3L365.9 127.8L363.5 130.2L361.1 127.8Z"/>
<circle cx="369.9" cy="128.8" r="2.3"/>
<circle cx="359.6" cy="137.3" r="2.3"/>
<circle cx="361.9" cy="138.8" r="2.3"/>
<circle cx="381.2" cy="143.5" r="2.3"/>
<circle cx="363.8" cy="148.8" r="2.3"/>
<circle cx="355.0" cy="133.5" r="2.3"/>
<circle cx="349.6" cy="130.4" r="2.3"/>
<circle cx="353.5" cy="126.5" r="2.3"/>
<circle cx="357.3" cy="121.9" r="2.3"/>
<circle cx="352.7" cy="120.4" r="2.3"/>
<circle cx="359.6" cy="115.0" r="2.3"/>
<circle cx="355.0" cy="114.2" r="2.3"/>
<circle cx="367.3" cy="111.9" r="2.3"/>
<circle cx="371.2" cy="112.7" r="2.3"/>
<circle cx="368.8" cy="108.1" r="2.3"/>
<circle cx="355.8" cy="108.1" r="2.3"/>
<circle cx="349.6" cy="111.9" r="2.3"/>
<circle cx="341.2" cy="128.1" r="2.3"/>
<circle cx="342.7" cy="135.8" r="2.3"/>
<circle cx="345.0" cy="139.6" r="2.3"/>
<circle cx="334.2" cy="109.6" r="2.3"/>
<circle cx="328.1" cy="108.1" r="2.3"/>
<path d="M325.4 147.0L327.8 149.4L325.4 151.8L322.9 149.4Z"/>
<path d="M325.0 155.7L327.4 158.1L325.0 160.5L322.6 158.1Z"/>
<circle cx="348.1" cy="108.1" r="2.3"/>
<rect x="273.1" y="154.3" width="4.6" height="4.6"/>
<path d="M294.0 152.2L296.4 154.6L294.0 157.0L291.6 154.6Z"/>
<path d="M299.9 143.5L302.3 145.9L299.9 148.3L297.4 145.9Z"/>
<path d="M303.6 142.8L306.1 145.2L303.6 147.6L301.2 145.2Z"/>
<path d="M307.4 147.1L309.8 149.5L307.4 151.9L304.9 149.5Z"/>
<path d="M313.1 145.5L315.6 147.9L313.1 150.3L310.7 147.9Z"/>
<path d="M316.4 146.8L318.8 149.2L316.4 151.6L313.9 149.2Z"/>
<path d="M317.1 149.5L319.6 151.9L317.1 154.3L314.7 151.9Z"/>
<path d="M321.8 150.2L324.2 152.6L321.8 155.0L319.4 152.6Z"/>
<path d="M320.5 145.5L322.9 147.9L320.5 150.3L318.1 147.9Z"/>
<path d="M313.1 124.5L315.6 127.0L313.1 129.4L310.7 127.0Z"/>
<path d="M327.9 126.0L330.3 128.4L327.9 130.8L325.4 128.4Z"/>
<path d="M335.4 79.3L337.8 81.8L335.4 84.2L332.9 81.8Z"/>
<path d="M334.6 83.6L337.1 86.1L334.6 88.5L332.2 86.1Z"/>
<path d="M343.5 83.2L345.9 85.7L343.5 88.2L341.1 85.7Z"/>
<circle cx="348.1" cy="81.5" r="2.3"/>
<circle cx="351.9" cy="82.2" r="2.3"/>
<circle cx="357.3" cy="84.9" r="2.3"/>
<circle cx="361.2" cy="87.2" r="2.3"/>
<circle cx="351.9" cy="89.5" r="2.3"/>
<circle cx="336.5" cy="91.8" r="2.3"/>
<path d="M341.5 89.0L343.9 91.5L341.5 94.0L339.1 91.5Z"/>
<path d="M328.1 87.0L330.6 89.5L328.1 92.0L325.7 89.5Z"/>
<path d="M327.3 90.5L329.8 93.0L327.3 95.5L324.9 93.0Z"/>
<path d="M346.9 91.0L349.3 93.4L346.9 95.9L344.4 93.4Z"/>
<path d="M359.2 89.3L361.6 91.8L359.2 94.2L356.8 91.8Z"/>
<path d="M361.9 91.0L364.3 93.4L361.9 95.9L359.4 93.4Z"/>
<path d="M333.5 95.5L335.9 98.0L333.5 100.5L331.1 98.0Z"/>
<circle cx="346.5" cy="98.4" r="2.3"/>
<path d="M327.3 101.0L329.8 103.4L327.3 105.9L324.9 103.4Z"/>
<path d="M333.1 100.1L335.6 102.6L333.1 105.0L330.7 102.6Z"/>
<path d="M338.5 99.3L340.9 101.8L338.5 104.2L336.1 101.8Z"/>
<path d="M335.4 103.2L337.8 105.7L335.4 108.2L332.9 105.7Z"/>
<path d="M350.4 100.1L352.8 102.6L350.4 105.0L347.9 102.6Z"/>
<circle cx="354.2" cy="100.3" r="2.3"/>
<path d="M358.8 98.6L361.2 101.1L358.8 103.5L356.4 101.1Z"/>
<path d="M362.7 96.3L365.1 98.8L362.7 101.2L360.2 98.8Z"/>
<circle cx="355.8" cy="104.2" r="2.3"/>
<path d="M348.1 102.5L350.6 104.9L348.1 107.4L345.7 104.9Z"/>
<circle cx="344.2" cy="105.7" r="2.3"/>
<path d="M360.4 103.2L362.8 105.7L360.4 108.2L357.9 105.7Z"/>
<circle cx="363.5" cy="103.4" r="2.3"/>
<path d="M313.1 132.7L315.6 135.1L313.1 137.5L310.7 135.1Z"/>
<path d="M316.4 132.0L318.8 134.4L316.4 136.8L313.9 134.4Z"/>
<path d="M321.8 130.0L324.2 132.4L321.8 134.8L319.4 132.4Z"/>
<path d="M317.1 135.4L319.6 137.8L317.1 140.2L314.7 137.8Z"/>
<path d="M321.1 136.1L323.6 138.5L321.1 140.9L318.7 138.5Z"/>
<path d="M308.4 137.4L310.8 139.8L308.4 142.2L305.9 139.8Z"/>
<path d="M311.7 139.4L314.1 141.8L311.7 144.2L309.2 141.8Z"/>
<path d="M314.4 141.4L316.8 143.8L314.4 146.2L311.9 143.8Z"/>
<path d="M323.2 141.4L325.6 143.8L323.2 146.2L320.8 143.8Z"/>
<path d="M326.5 132.0L328.9 134.4L326.5 136.8L324.1 134.4Z"/>
<path d="M329.9 135.4L332.3 137.8L329.9 140.2L327.4 137.8Z"/>
<path d="M334.6 134.7L337.1 137.1L334.6 139.5L332.2 137.1Z"/>
<path d="M337.3 137.4L339.8 139.8L337.3 142.2L334.9 139.8Z"/>
<path d="M329.2 128.0L331.6 130.4L329.2 132.8L326.8 130.4Z"/>
<path d="M333.3 126.5L335.8 129.0L333.3 131.4L330.9 129.0Z"/>
<path d="M335.9 129.2L338.3 131.7L335.9 134.1L333.4 131.7Z"/>
<path d="M302.3 128.7L304.8 131.1L302.3 133.5L299.9 131.1Z"/>
<path d="M305.7 129.2L308.1 131.7L305.7 134.1L303.2 131.7Z"/>
<path d="M309.7 128.7L312.1 131.1L309.7 133.5L307.2 131.1Z"/>
<circle cx="336.5" cy="133.5" r="2.3"/>
<path d="M324.2 113.5L326.6 116.0L324.2 118.5L321.8 116.0Z"/>
<path d="M327.2 112.0L329.6 114.5L327.2 117.0L324.8 114.5Z"/>
<rect x="330.2" y="113.4" width="4.6" height="4.6"/>
<circle cx="336.5" cy="113.2" r="2.3"/>
<circle cx="342.6" cy="113.2" r="2.3"/>
<circle cx="345.1" cy="115.4" r="2.3"/>
<circle cx="348.2" cy="113.2" r="2.3"/>
<path d="M319.2 116.3L321.6 118.8L319.2 121.2L316.8 118.8Z"/>
<rect x="319.7" y="120.8" width="4.6" height="4.6"/>
<path d="M327.2 118.8L329.6 121.2L327.2 123.7L324.8 121.2Z"/>
<path d="M330.3 119.3L332.8 121.8L330.3 124.2L327.9 121.8Z"/>
<circle cx="334.3" cy="120.0" r="2.3"/>
<circle cx="337.7" cy="117.8" r="2.3"/>
<circle cx="342.6" cy="118.8" r="2.3"/>
<circle cx="341.7" cy="123.4" r="2.3"/>
<circle cx="345.1" cy="124.3" r="2.3"/>
<path d="M334.6 122.5L337.1 124.9L334.6 127.4L332.2 124.9Z"/>
<path d="M331.5 124.8L333.9 127.2L331.5 129.7L329.1 127.2Z"/>
<path d="M327.5 124.0L329.9 126.5L327.5 128.9L325.1 126.5Z"/>
<path d="M324.2 124.0L326.6 126.5L324.2 128.9L321.8 126.5Z"/>
<path d="M319.8 124.5L322.2 127.0L319.8 129.4L317.4 127.0Z"/>
<circle cx="349.0" cy="121.5" r="2.3"/>
<circle cx="348.5" cy="126.5" r="2.3"/>
<circle cx="156.5" cy="216.5" r="2.3"/>
<circle cx="158.5" cy="221.2" r="2.3"/>
<circle cx="152.6" cy="227.0" r="2.3"/>
<path d="M156.9 225.1L159.1 229.1L154.7 229.1Z"/>
<circle cx="144.6" cy="230.8" r="2.3"/>
<path d="M150.3 242.9L152.8 245.3L150.3 247.8L147.9 245.3Z"/>
<path d="M122.3 250.2L124.8 252.7L122.3 255.1L119.8 252.7Z"/>
<circle cx="145.7" cy="255.5" r="2.3"/>
<circle cx="146.5" cy="259.2" r="2.3"/>
<path d="M141.5 260.2L143.9 262.7L141.5 265.1L139.1 262.7Z"/>
<path d="M122.3 261.3L124.5 265.3L120.1 265.3Z"/>
<path d="M128.5 260.9L130.9 263.3L128.5 265.8L126.0 263.3Z"/>
<path d="M162.6 252.1L165.0 254.5L162.6 256.9L160.2 254.5Z"/>
<path d="M173.1 252.9L175.5 255.3L173.1 257.8L170.7 255.3Z"/>
<circle cx="178.2" cy="252.7" r="2.3"/>
<circle cx="159.1" cy="262.5" r="2.3"/>
<path d="M163.1 258.2L165.5 260.7L163.1 263.1L160.7 260.7Z"/>
<path d="M166.2 258.9L168.6 261.3L166.2 263.8L163.8 261.3Z"/>
<circle cx="169.5" cy="261.7" r="2.3"/>
<path d="M173.9 259.9L176.3 262.4L173.9 264.8L171.5 262.4Z"/>
<circle cx="115.4" cy="259.2" r="2.3"/>
<path d="M116.5 259.1L119.0 261.5L116.5 263.9L114.0 261.5Z"/>
<circle cx="121.5" cy="268.5" r="2.3"/>
<path d="M123.1 267.8L125.3 271.8L120.9 271.8Z"/>
<path d="M114.3 266.8L116.8 269.2L114.3 271.6L111.8 269.2Z"/>
<circle cx="117.4" cy="274.6" r="2.3"/>
<path d="M120.5 277.9L123.0 280.3L120.5 282.8L118.0 280.3Z"/>
<path d="M119.2 279.4L121.7 281.8L119.2 284.2L116.8 281.8Z"/>
<circle cx="148.7" cy="269.4" r="2.3"/>
<circle cx="113.1" cy="285.4" r="2.3"/>
<path d="M116.9 283.8L119.4 286.2L116.9 288.6L114.5 286.2Z"/>
<path d="M116.2 288.7L118.7 291.1L116.2 293.6L113.8 291.1Z"/>
<path d="M106.2 285.2L108.7 287.7L106.2 290.1L103.8 287.7Z"/>
<path d="M103.1 286.8L105.5 289.2L103.1 291.6L100.6 289.2Z"/>
<path d="M106.9 288.4L109.4 290.8L106.9 293.2L104.5 290.8Z"/>
<path d="M110.8 290.1L113.2 292.5L110.8 294.9L108.3 292.5Z"/>
<path d="M100.0 290.4L102.5 292.9L100.0 295.3L97.5 292.9Z"/>
<path d="M100.0 294.4L102.5 296.9L100.0 299.3L97.5 296.9Z"/>
<path d="M111.5 292.2L114.0 294.6L111.5 297.1L109.0 294.6Z"/>
<circle cx="134.1" cy="280.9" r="2.3"/>
<circle cx="128.2" cy="283.9" r="2.3"/>
<path d="M127.7 284.4L130.2 286.9L127.7 289.3L125.2 286.9Z"/>
<path d="M125.4 286.1L127.9 288.5L125.4 290.9L123.0 288.5Z"/>
<path d="M130.0 287.6L132.4 290.0L130.0 292.4L127.5 290.0Z"/>
<circle cx="133.0" cy="290.6" r="2.3"/>
<circle cx="135.2" cy="285.0" r="2.3"/>
<circle cx="138.5" cy="288.5" r="2.3"/>
<circle cx="140.8" cy="291.5" r="2.3"/>
<circle cx="145.4" cy="287.7" r="2.3"/>
<path d="M148.7 281.4L151.1 283.9L148.7 286.3L146.2 283.9Z"/>
<circle cx="122.3" cy="290.8" r="2.3"/>
<circle cx="128.5" cy="294.6" r="2.3"/>
<circle cx="146.9" cy="296.9" r="2.3"/>
<circle cx="158.9" cy="266.3" r="2.3"/>
<circle cx="167.6" cy="270.9" r="2.3"/>
<path d="M172.6 271.4L175.0 273.8L172.6 276.2L170.2 273.8Z"/>
<circle cx="182.7" cy="274.9" r="2.3"/>
<circle cx="157.0" cy="276.9" r="2.3"/>
<circle cx="155.3" cy="279.8" r="2.3"/>
<circle cx="151.7" cy="281.7" r="2.3"/>
<path d="M147.4 283.6L149.8 286.0L147.4 288.4L145.0 286.0Z"/>
<circle cx="170.9" cy="279.5" r="2.3"/>
<path d="M165.1 278.6L167.5 281.0L165.1 283.4L162.7 281.0Z"/>
<circle cx="164.7" cy="283.1" r="2.3"/>
<path d="M168.0 282.4L170.2 286.4L165.8 286.4Z"/>
<path d="M164.7 286.9L167.1 289.3L164.7 291.8L162.2 289.3Z"/>
<path d="M168.3 291.2L170.8 293.7L168.3 296.1L165.9 293.7Z"/>
<circle cx="173.8" cy="294.2" r="2.3"/>
<circle cx="185.6" cy="301.9" r="2.3"/>
<path d="M170.9 302.6L173.1 306.6L168.7 306.6Z"/>
<path d="M165.4 300.2L167.8 302.6L165.4 305.1L163.0 302.6Z"/>
<path d="M151.0 286.4L153.4 288.9L151.0 291.3L148.6 288.9Z"/>
<path d="M155.3 288.7L157.8 291.1L155.3 293.6L152.9 291.1Z"/>
<path d="M154.3 292.4L156.8 294.9L154.3 297.3L151.9 294.9Z"/>
<path d="M158.2 294.4L160.6 296.8L158.2 299.2L155.8 296.8Z"/>
<path d="M162.5 295.2L164.9 297.6L162.5 300.1L160.1 297.6Z"/>
<circle cx="159.4" cy="301.6" r="2.3"/>
<path d="M156.3 297.7L158.8 300.1L156.3 302.6L153.9 300.1Z"/>
<path d="M150.2 300.2L152.6 302.7L150.2 305.1L147.8 302.7Z"/>
<circle cx="145.5" cy="292.2" r="2.3"/>
<circle cx="131.5" cy="285.3" r="2.3"/>
<circle cx="138.7" cy="290.4" r="2.3"/>
<circle cx="127.2" cy="289.6" r="2.3"/>
<circle cx="148.8" cy="307.7" r="2.3"/>
<path d="M159.4 303.9L161.8 306.4L159.4 308.8L157.0 306.4Z"/>
<path d="M90.3 303.9L92.8 306.4L90.3 308.8L87.8 306.4Z"/>
<path d="M90.7 311.2L93.2 313.6L90.7 316.1L88.2 313.6Z"/>
<rect x="89.3" y="315.3" width="4.6" height="4.6"/>
<rect x="85.0" y="318.4" width="4.6" height="4.6"/>
<path d="M90.2 325.9L92.7 328.3L90.2 330.8L87.8 328.3Z"/>
<rect x="87.0" y="334.8" width="4.6" height="4.6"/>
<path d="M103.5 305.8L106.0 308.2L103.5 310.6L101.0 308.2Z"/>
<path d="M104.8 311.8L107.2 314.2L104.8 316.6L102.3 314.2Z"/>
<path d="M87.9 340.7L90.4 343.1L87.9 345.6L85.5 343.1Z"/>
<path d="M89.0 350.2L91.5 352.7L89.0 355.1L86.5 352.7Z"/>
<path d="M113.3 353.6L115.8 356.0L113.3 358.4L110.8 356.0Z"/>
<path d="M118.6 344.9L121.0 347.3L118.6 349.8L116.1 347.3Z"/>
<path d="M130.8 344.9L133.2 347.3L130.8 349.8L128.4 347.3Z"/>
<circle cx="137.8" cy="346.6" r="2.3"/>
<circle cx="146.2" cy="336.3" r="2.3"/>
<path d="M100.5 341.4L103.0 343.9L100.5 346.3L98.0 343.9Z"/>
<path d="M103.2 343.6L105.7 346.0L103.2 348.4L100.8 346.0Z"/>
<path d="M105.9 347.6L108.4 350.0L105.9 352.4L103.5 350.0Z"/>
<path d="M110.6 346.9L113.0 349.3L110.6 351.8L108.1 349.3Z"/>
<path d="M107.9 342.9L110.4 345.3L107.9 347.8L105.5 345.3Z"/>
<path d="M105.2 339.4L107.7 341.9L105.2 344.3L102.8 341.9Z"/>
<path d="M109.2 339.4L111.7 341.9L109.2 344.3L106.8 341.9Z"/>
<path d="M128.7 334.8L131.1 337.2L128.7 339.6L126.2 337.2Z"/>
<path d="M131.4 331.4L133.8 333.8L131.4 336.2L129.0 333.8Z"/>
<path d="M128.1 325.4L130.5 327.8L128.1 330.2L125.6 327.8Z"/>
<path d="M132.8 327.4L135.2 329.8L132.8 332.2L130.4 329.8Z"/>
<path d="M136.1 328.8L138.5 331.2L136.1 333.6L133.7 331.2Z"/>
<path d="M138.2 324.7L140.6 327.1L138.2 329.6L135.8 327.1Z"/>
<path d="M148.0 326.7L150.4 329.1L148.0 331.6L145.6 329.1Z"/>
<path d="M144.6 322.4L147.0 324.8L144.6 327.2L142.2 324.8Z"/>
<path d="M150.9 320.7L153.3 323.1L150.9 325.6L148.5 323.1Z"/>
<path d="M153.2 315.8L155.6 318.2L153.2 320.6L150.8 318.2Z"/>
<path d="M146.9 318.7L149.3 321.1L146.9 323.6L144.5 321.1Z"/>
<path d="M167.5 307.4L169.9 309.8L167.5 312.2L165.1 309.8Z"/>
<path d="M160.4 307.9L162.8 310.4L160.4 312.8L158.0 310.4Z"/>
<path d="M156.6 310.6L159.0 313.0L156.6 315.4L154.2 313.0Z"/>
<path d="M152.8 312.4L155.2 314.9L152.8 317.3L150.4 314.9Z"/>
<path d="M156.0 317.6L158.4 320.0L156.0 322.4L153.6 320.0Z"/>
<path d="M157.9 320.2L160.3 322.6L157.9 325.1L155.5 322.6Z"/>
<circle cx="162.4" cy="321.3" r="2.3"/>
<path d="M154.0 322.1L156.4 324.5L154.0 326.9L151.6 324.5Z"/>
<path d="M157.9 324.6L160.3 327.0L157.9 329.4L155.5 327.0Z"/>
<path d="M158.5 330.4L160.9 332.8L158.5 335.2L156.1 332.8Z"/>
<path d="M150.2 323.4L152.6 325.8L150.2 328.2L147.8 325.8Z"/>
<path d="M148.9 318.2L151.3 320.7L148.9 323.1L146.5 320.7Z"/>
<circle cx="145.1" cy="306.0" r="2.3"/>
<rect x="79.1" y="352.8" width="4.6" height="4.6"/>
<path d="M111.9 293.4L114.4 295.8L111.9 298.2L109.5 295.8Z"/>
<circle cx="117.3" cy="298.1" r="2.3"/>
<path d="M123.1 294.1L125.5 296.5L123.1 298.9L120.6 296.5Z"/>
<circle cx="131.2" cy="298.5" r="2.3"/>
<circle cx="137.3" cy="295.8" r="2.3"/>
<circle cx="141.9" cy="298.8" r="2.3"/>
<circle cx="110.0" cy="301.2" r="2.3"/>
<path d="M116.5 300.7L119.0 303.1L116.5 305.6L114.0 303.1Z"/>
<path d="M120.8 299.1L123.2 301.5L120.8 303.9L118.3 301.5Z"/>
<circle cx="123.5" cy="300.4" r="2.3"/>
<path d="M127.3 299.9L129.8 302.3L127.3 304.8L124.8 302.3Z"/>
<circle cx="133.5" cy="304.2" r="2.3"/>
<path d="M140.0 299.9L142.4 302.3L140.0 304.8L137.6 302.3Z"/>
<path d="M111.5 303.4L114.0 305.8L111.5 308.2L109.0 305.8Z"/>
<path d="M107.3 306.1L109.8 308.5L107.3 310.9L104.8 308.5Z"/>
<path d="M115.8 306.4L118.2 308.8L115.8 311.2L113.3 308.8Z"/>
<path d="M119.6 304.9L122.0 307.3L119.6 309.8L117.1 307.3Z"/>
<path d="M122.7 302.6L125.2 305.0L122.7 307.4L120.2 305.0Z"/>
<circle cx="128.1" cy="305.8" r="2.3"/>
<path d="M124.6 306.4L127.0 308.8L124.6 311.2L122.1 308.8Z"/>
<path d="M129.6 307.6L132.0 310.0L129.6 312.4L127.1 310.0Z"/>
<path d="M138.8 304.4L141.2 306.9L138.8 309.3L136.4 306.9Z"/>
<circle cx="142.7" cy="306.5" r="2.3"/>
<path d="M136.5 308.4L138.9 310.8L136.5 313.2L134.1 310.8Z"/>
<path d="M108.8 311.1L111.2 313.5L108.8 315.9L106.3 313.5Z"/>
<path d="M112.7 309.1L115.2 311.5L112.7 313.9L110.2 311.5Z"/>
<path d="M116.5 311.8L119.0 314.2L116.5 316.6L114.0 314.2Z"/>
<circle cx="121.2" cy="315.0" r="2.3"/>
<path d="M125.4 311.1L127.9 313.5L125.4 315.9L123.0 313.5Z"/>
<path d="M129.6 311.8L132.0 314.2L129.6 316.6L127.1 314.2Z"/>
<path d="M133.8 311.1L136.2 313.5L133.8 315.9L131.4 313.5Z"/>
<path d="M138.1 309.4L140.5 311.9L138.1 314.3L135.7 311.9Z"/>
<circle cx="142.3" cy="314.2" r="2.3"/>
<path d="M113.5 312.9L116.0 315.4L113.5 317.8L111.0 315.4Z"/>
<path d="M108.1 315.7L110.5 318.1L108.1 320.6L105.6 318.1Z"/>
<path d="M117.7 314.9L120.2 317.3L117.7 319.8L115.2 317.3Z"/>
<circle cx="130.8" cy="318.1" r="2.3"/>
<path d="M135.0 315.7L137.4 318.1L135.0 320.6L132.6 318.1Z"/>
<path d="M140.0 315.2L142.4 317.7L140.0 320.1L137.6 317.7Z"/>
<path d="M143.5 318.8L145.9 321.2L143.5 323.6L141.1 321.2Z"/>
<circle cx="131.5" cy="322.7" r="2.3"/>
<path d="M138.1 320.2L140.5 322.7L138.1 325.1L135.7 322.7Z"/>
<path d="M99.9 317.4L102.4 319.9L99.9 322.3L97.5 319.9Z"/>
<path d="M104.5 318.7L107.0 321.1L104.5 323.6L102.0 321.1Z"/>
<path d="M109.2 316.4L111.7 318.8L109.2 321.2L106.8 318.8Z"/>
<path d="M113.8 317.1L116.2 319.5L113.8 321.9L111.3 319.5Z"/>
<circle cx="117.6" cy="319.5" r="2.3"/>
<path d="M122.6 318.7L125.0 321.1L122.6 323.6L120.1 321.1Z"/>
<circle cx="126.5" cy="319.5" r="2.3"/>
<path d="M93.0 322.4L95.5 324.9L93.0 327.3L90.5 324.9Z"/>
<path d="M98.0 321.4L100.5 323.8L98.0 326.2L95.5 323.8Z"/>
<path d="M95.7 324.1L98.2 326.5L95.7 328.9L93.2 326.5Z"/>
<path d="M106.5 324.1L109.0 326.5L106.5 328.9L104.0 326.5Z"/>
<circle cx="115.3" cy="325.3" r="2.3"/>
<path d="M118.4 321.4L120.9 323.8L118.4 326.2L116.0 323.8Z"/>
<path d="M119.5 324.6L122.0 327.0L119.5 329.4L117.0 327.0Z"/>
<path d="M123.4 323.2L125.9 325.7L123.4 328.1L121.0 325.7Z"/>
<path d="M99.5 327.1L102.0 329.5L99.5 331.9L97.0 329.5Z"/>
<path d="M107.6 327.9L110.0 330.3L107.6 332.8L105.1 330.3Z"/>
<path d="M114.2 325.6L116.7 328.0L114.2 330.4L111.8 328.0Z"/>
<path d="M124.2 329.1L126.7 331.5L124.2 333.9L121.8 331.5Z"/>
<path d="M126.8 326.1L129.2 328.5L126.8 330.9L124.3 328.5Z"/>
<path d="M95.7 332.9L98.2 335.3L95.7 337.8L93.2 335.3Z"/>
<path d="M105.7 330.2L108.2 332.6L105.7 335.1L103.2 332.6Z"/>
<path d="M110.3 330.9L112.8 333.4L110.3 335.8L107.8 333.4Z"/>
<path d="M105.7 334.1L108.2 336.5L105.7 338.9L103.2 336.5Z"/>
<path d="M109.9 334.6L112.4 337.0L109.9 339.4L107.5 337.0Z"/>
<path d="M114.9 333.7L117.4 336.1L114.9 338.6L112.5 336.1Z"/>
<path d="M119.5 332.1L122.0 334.5L119.5 336.9L117.0 334.5Z"/>
<path d="M123.4 334.1L125.9 336.5L123.4 338.9L121.0 336.5Z"/>
<path d="M126.1 336.4L128.5 338.8L126.1 341.2L123.6 338.8Z"/>
<path d="M104.2 337.1L106.7 339.5L104.2 341.9L101.8 339.5Z"/>
<path d="M98.8 337.4L101.2 339.9L98.8 342.3L96.3 339.9Z"/>
<path d="M112.6 338.7L115.0 341.1L112.6 343.6L110.1 341.1Z"/>
<path d="M118.8 337.9L121.2 340.3L118.8 342.8L116.3 340.3Z"/>
<path d="M122.6 338.9L125.0 341.3L122.6 343.8L120.1 341.3Z"/>
<circle cx="354.1" cy="216.2" r="2.3"/>
<circle cx="356.6" cy="220.7" r="2.3"/>
<circle cx="360.6" cy="221.1" r="2.3"/>
<path d="M341.9 224.1L344.1 228.1L339.7 228.1Z"/>
<circle cx="348.9" cy="226.7" r="2.3"/>
<circle cx="348.9" cy="230.5" r="2.3"/>
<path d="M360.6 242.2L363.1 244.7L360.6 247.1L358.2 244.7Z"/>
<path d="M334.9 249.6L337.3 252.0L334.9 254.4L332.4 252.0Z"/>
<circle cx="348.2" cy="254.8" r="2.3"/>
<circle cx="371.4" cy="252.0" r="2.3"/>
<circle cx="367.9" cy="254.1" r="2.3"/>
<path d="M378.8 252.0L381.2 254.4L378.8 256.9L376.4 254.4Z"/>
<circle cx="352.4" cy="258.5" r="2.3"/>
<path d="M357.3 256.1L359.5 260.1L355.1 260.1Z"/>
<circle cx="368.9" cy="259.8" r="2.3"/>
<path d="M375.5 257.4L377.9 259.9L375.5 262.3L373.1 259.9Z"/>
<path d="M331.4 257.7L333.8 260.1L331.4 262.6L328.9 260.1Z"/>
<path d="M335.5 260.4L337.9 262.8L335.5 265.2L333.1 262.8Z"/>
<circle cx="315.7" cy="258.3" r="2.3"/>
<path d="M312.6 261.3L314.8 265.3L310.4 265.3Z"/>
<path d="M310.6 267.3L312.8 271.3L308.4 271.3Z"/>
<circle cx="315.7" cy="268.2" r="2.3"/>
<path d="M321.6 266.4L324.1 268.8L321.6 271.2L319.2 268.8Z"/>
<circle cx="316.2" cy="274.2" r="2.3"/>
<circle cx="320.7" cy="278.9" r="2.3"/>
<circle cx="347.4" cy="267.9" r="2.3"/>
<circle cx="351.1" cy="270.0" r="2.3"/>
<path d="M327.4 277.9L329.8 280.3L327.4 282.8L324.9 280.3Z"/>
<path d="M330.8 279.9L333.2 282.3L330.8 284.8L328.4 282.3Z"/>
<circle cx="332.8" cy="280.3" r="2.3"/>
<circle cx="337.5" cy="281.0" r="2.3"/>
<path d="M341.5 281.2L343.9 283.6L341.5 286.1L339.1 283.6Z"/>
<circle cx="344.9" cy="281.0" r="2.3"/>
<circle cx="347.8" cy="280.0" r="2.3"/>
<circle cx="351.8" cy="276.2" r="2.3"/>
<path d="M328.1 283.2L330.6 285.7L328.1 288.1L325.7 285.7Z"/>
<path d="M326.0 287.2L328.4 289.7L326.0 292.1L323.6 289.7Z"/>
<path d="M329.4 287.9L331.8 290.4L329.4 292.8L326.9 290.4Z"/>
<path d="M332.8 286.6L335.2 289.0L332.8 291.4L330.4 289.0Z"/>
<circle cx="340.9" cy="287.7" r="2.3"/>
<path d="M342.9 283.2L345.3 285.7L342.9 288.1L340.4 285.7Z"/>
<circle cx="344.9" cy="289.0" r="2.3"/>
<circle cx="352.1" cy="285.2" r="2.3"/>
<circle cx="348.3" cy="291.4" r="2.3"/>
<path d="M321.3 291.2L323.8 293.7L321.3 296.1L318.9 293.7Z"/>
<path d="M324.0 289.2L326.4 291.7L324.0 294.1L321.6 291.7Z"/>
<circle cx="329.4" cy="295.8" r="2.3"/>
<circle cx="333.1" cy="296.7" r="2.3"/>
<circle cx="315.3" cy="285.7" r="2.3"/>
<path d="M308.9 284.6L311.3 287.0L308.9 289.4L306.4 287.0Z"/>
<path d="M313.9 288.6L316.3 291.0L313.9 293.4L311.4 291.0Z"/>
<circle cx="302.5" cy="289.7" r="2.3"/>
<path d="M304.0 290.1L306.4 292.5L304.0 294.9L301.6 292.5Z"/>
<path d="M307.9 292.4L310.3 294.8L307.9 297.2L305.4 294.8Z"/>
<circle cx="311.5" cy="296.4" r="2.3"/>
<circle cx="304.6" cy="299.4" r="2.3"/>
<circle cx="321.3" cy="297.8" r="2.3"/>
<circle cx="341.5" cy="297.8" r="2.3"/>
<circle cx="346.9" cy="297.1" r="2.3"/>
<circle cx="352.5" cy="296.4" r="2.3"/>
<path d="M379.4 260.1L381.8 262.5L379.4 264.9L376.9 262.5Z"/>
<circle cx="359.4" cy="265.3" r="2.3"/>
<circle cx="362.2" cy="261.9" r="2.3"/>
<path d="M357.6 258.9L360.1 261.3L357.6 263.8L355.2 261.3Z"/>
<circle cx="368.5" cy="270.5" r="2.3"/>
<path d="M378.3 270.9L380.8 273.4L378.3 275.8L375.9 273.4Z"/>
<circle cx="381.2" cy="274.5" r="2.3"/>
<circle cx="373.1" cy="279.1" r="2.3"/>
<circle cx="369.7" cy="279.7" r="2.3"/>
<circle cx="366.8" cy="282.6" r="2.3"/>
<circle cx="355.3" cy="279.7" r="2.3"/>
<path d="M356.5 281.2L358.9 283.7L356.5 286.1L354.1 283.7Z"/>
<path d="M357.1 284.7L359.6 287.1L357.1 289.6L354.7 287.1Z"/>
<path d="M375.4 286.4L377.8 288.9L375.4 291.3L372.9 288.9Z"/>
<path d="M373.7 290.4L376.1 292.9L373.7 295.3L371.2 292.9Z"/>
<path d="M375.9 291.1L378.3 293.5L375.9 295.9L373.4 293.5Z"/>
<path d="M362.2 286.9L364.6 289.4L362.2 291.8L359.8 289.4Z"/>
<path d="M366.4 288.2L368.8 290.6L366.4 293.1L363.9 290.6Z"/>
<circle cx="363.8" cy="295.1" r="2.3"/>
<circle cx="361.6" cy="294.6" r="2.3"/>
<path d="M373.1 294.2L375.6 296.6L373.1 299.1L370.7 296.6Z"/>
<path d="M370.2 296.7L372.6 299.1L370.2 301.6L367.8 299.1Z"/>
<path d="M296.2 303.9L298.6 306.3L296.2 308.8L293.8 306.3Z"/>
<path d="M297.1 311.2L299.6 313.6L297.1 316.1L294.7 313.6Z"/>
<path d="M295.4 321.9L297.8 324.4L295.4 326.8L292.9 324.4Z"/>
<path d="M295.2 326.2L297.6 328.6L295.2 331.1L292.8 328.6Z"/>
<circle cx="308.6" cy="307.2" r="2.3"/>
<rect x="301.6" y="318.0" width="4.6" height="4.6"/>
<rect x="309.2" y="315.1" width="4.6" height="4.6"/>
<path d="M305.4 314.4L307.8 316.8L305.4 319.2L302.9 316.8Z"/>
<path d="M309.2 311.2L311.6 313.6L309.2 316.1L306.8 313.6Z"/>
<path d="M301.6 321.4L304.1 323.8L301.6 326.2L299.2 323.8Z"/>
<path d="M305.4 323.2L307.8 325.7L305.4 328.1L302.9 325.7Z"/>
<path d="M308.6 325.8L311.1 328.2L308.6 330.6L306.2 328.2Z"/>
<path d="M311.8 320.1L314.2 322.5L311.8 324.9L309.4 322.5Z"/>
<path d="M314.9 315.6L317.3 318.0L314.9 320.4L312.4 318.0Z"/>
<path d="M316.2 310.4L318.6 312.9L316.2 315.3L313.8 312.9Z"/>
<path d="M314.3 305.4L316.8 307.8L314.3 310.2L311.9 307.8Z"/>
<path d="M312.4 300.2L314.8 302.7L312.4 305.1L309.9 302.7Z"/>
<path d="M315.6 289.4L318.1 291.9L315.6 294.3L313.2 291.9Z"/>
<circle cx="319.4" cy="298.3" r="2.3"/>
<path d="M318.8 301.6L321.2 304.0L318.8 306.4L316.4 304.0Z"/>
<path d="M320.0 306.7L322.4 309.1L320.0 311.6L317.6 309.1Z"/>
<path d="M320.7 311.2L323.1 313.6L320.7 316.1L318.2 313.6Z"/>
<path d="M318.1 318.8L320.6 321.2L318.1 323.6L315.7 321.2Z"/>
<path d="M315.6 324.4L318.1 326.9L315.6 329.3L313.2 326.9Z"/>
<path d="M319.4 323.2L321.8 325.7L319.4 328.1L316.9 325.7Z"/>
<path d="M323.2 318.2L325.6 320.6L323.2 323.1L320.8 320.6Z"/>
<path d="M321.9 314.4L324.3 316.8L321.9 319.2L319.4 316.8Z"/>
<path d="M324.5 310.4L326.9 312.9L324.5 315.3L322.1 312.9Z"/>
<path d="M323.2 304.8L325.6 307.2L323.2 309.6L320.8 307.2Z"/>
<path d="M323.9 299.7L326.3 302.1L323.9 304.6L321.4 302.1Z"/>
<circle cx="323.2" cy="295.7" r="2.3"/>
<path d="M327.0 289.4L329.4 291.9L327.0 294.3L324.6 291.9Z"/>
<path d="M329.0 295.2L331.4 297.6L329.0 300.1L326.6 297.6Z"/>
<path d="M330.2 300.2L332.6 302.7L330.2 305.1L327.8 302.7Z"/>
<circle cx="333.4" cy="302.1" r="2.3"/>
<path d="M328.3 305.4L330.8 307.8L328.3 310.2L325.9 307.8Z"/>
<path d="M329.6 309.9L332.1 312.3L329.6 314.8L327.2 312.3Z"/>
<path d="M327.7 314.9L330.1 317.4L327.7 319.8L325.2 317.4Z"/>
<path d="M327.0 320.1L329.4 322.5L327.0 324.9L324.6 322.5Z"/>
<path d="M325.8 324.4L328.2 326.9L325.8 329.3L323.4 326.9Z"/>
<path d="M329.6 319.4L332.1 321.8L329.6 324.2L327.2 321.8Z"/>
<path d="M332.1 314.9L334.6 317.4L332.1 319.8L329.7 317.4Z"/>
<path d="M333.4 311.2L335.8 313.6L333.4 316.1L330.9 313.6Z"/>
<path d="M332.8 306.7L335.2 309.1L332.8 311.6L330.4 309.1Z"/>
<path d="M337.2 308.6L339.6 311.0L337.2 313.4L334.8 311.0Z"/>
<path d="M337.2 314.4L339.6 316.8L337.2 319.2L334.8 316.8Z"/>
<path d="M334.7 318.2L337.1 320.6L334.7 323.1L332.2 320.6Z"/>
<circle cx="338.5" cy="320.6" r="2.3"/>
<path d="M341.6 311.2L344.1 313.6L341.6 316.1L339.2 313.6Z"/>
<path d="M342.9 313.9L345.3 316.4L342.9 318.8L340.4 316.4Z"/>
<rect x="342.9" y="318.1" width="4.6" height="4.6"/>
<path d="M346.2 307.2L348.6 309.6L346.2 312.1L343.8 309.6Z"/>
<circle cx="347.4" cy="305.9" r="2.3"/>
<circle cx="343.2" cy="300.4" r="2.3"/>
<circle cx="347.4" cy="301.5" r="2.3"/>
<circle cx="341.1" cy="291.3" r="2.3"/>
<circle cx="347.4" cy="292.5" r="2.3"/>
<circle cx="332.5" cy="331.0" r="2.3"/>
<circle cx="338.6" cy="328.9" r="2.3"/>
<path d="M337.2 330.2L339.6 332.7L337.2 335.1L334.8 332.7Z"/>
<path d="M332.5 332.4L334.9 334.9L332.5 337.3L330.1 334.9Z"/>
<path d="M342.3 329.6L344.8 332.0L342.3 334.4L339.9 332.0Z"/>
<path d="M344.9 334.7L347.3 337.1L344.9 339.6L342.4 337.1Z"/>
<path d="M323.2 329.6L325.6 332.0L323.2 334.4L320.8 332.0Z"/>
<path d="M320.0 333.7L322.4 336.1L320.0 338.6L317.6 336.1Z"/>
<path d="M315.8 331.2L318.2 333.6L315.8 336.1L313.4 333.6Z"/>
<circle cx="310.5" cy="333.3" r="2.3"/>
<path d="M301.4 332.1L303.8 334.5L301.4 336.9L298.9 334.5Z"/>
<rect x="300.3" y="335.5" width="4.6" height="4.6"/>
<path d="M313.1 335.4L315.6 337.8L313.1 340.2L310.7 337.8Z"/>
<path d="M326.5 334.7L328.9 337.1L326.5 339.6L324.1 337.1Z"/>
<rect x="294.1" y="352.0" width="4.6" height="4.6"/>
<path d="M301.4 349.8L303.8 352.2L301.4 354.6L298.9 352.2Z"/>
<path d="M322.4 353.8L324.8 356.2L322.4 358.6L319.9 356.2Z"/>
<path d="M322.4 346.8L324.8 349.2L322.4 351.6L319.9 349.2Z"/>
<path d="M332.8 344.1L335.2 346.5L332.8 348.9L330.4 346.5Z"/>
<circle cx="339.5" cy="346.3" r="2.3"/>
<path d="M346.9 344.1L349.3 346.5L346.9 348.9L344.4 346.5Z"/>
<path d="M295.1 340.1L297.6 342.5L295.1 344.9L292.7 342.5Z"/>
<path d="M297.8 338.1L300.2 340.5L297.8 342.9L295.4 340.5Z"/>
<path d="M306.5 337.4L308.9 339.8L306.5 342.2L304.1 339.8Z"/>
<path d="M309.2 340.1L311.6 342.5L309.2 344.9L306.8 342.5Z"/>
<path d="M306.5 342.8L308.9 345.2L306.5 347.6L304.1 345.2Z"/>
<path d="M309.9 344.1L312.3 346.5L309.9 348.9L307.4 346.5Z"/>
<path d="M312.6 347.4L315.1 349.9L312.6 352.3L310.2 349.9Z"/>
<path d="M314.6 342.8L317.1 345.2L314.6 347.6L312.2 345.2Z"/>
<path d="M317.3 342.8L319.8 345.2L317.3 347.6L314.9 345.2Z"/>
<path d="M316.0 339.4L318.4 341.8L316.0 344.2L313.6 341.8Z"/>
<path d="M310.6 332.7L313.1 335.1L310.6 337.6L308.2 335.1Z"/>
<path d="M316.6 336.1L319.1 338.5L316.6 340.9L314.2 338.5Z"/>
<circle cx="323.4" cy="335.1" r="2.3"/>
<path d="M336.1 334.7L338.6 337.1L336.1 339.6L333.7 337.1Z"/>
<circle cx="341.4" cy="339.8" r="2.3"/>
<path d="M344.2 332.6L346.6 335.0L344.2 337.4L341.8 335.0Z"/>
<path d="M348.3 328.7L350.8 331.1L348.3 333.6L345.9 331.1Z"/>
<circle cx="350.4" cy="336.1" r="2.3"/>
<path d="M351.0 325.2L353.4 327.7L351.0 330.1L348.6 327.7Z"/>
<circle cx="384.9" cy="301.9" r="2.3"/>
<path d="M380.4 306.9L382.8 309.4L380.4 311.8L377.9 309.4Z"/>
<path d="M373.0 329.7L375.4 332.1L373.0 334.6L370.6 332.1Z"/>
<circle cx="355.4" cy="340.5" r="2.3"/>
<circle cx="348.4" cy="312.4" r="2.3"/>
<path d="M353.3 311.4L355.8 313.8L353.3 316.2L350.9 313.8Z"/>
<path d="M352.6 314.9L355.1 317.3L352.6 319.8L350.2 317.3Z"/>
<path d="M356.8 317.1L359.2 319.5L356.8 321.9L354.4 319.5Z"/>
<path d="M358.2 320.6L360.6 323.0L358.2 325.4L355.8 323.0Z"/>
<circle cx="361.7" cy="319.5" r="2.3"/>
<rect x="360.8" y="311.5" width="4.6" height="4.6"/>
<path d="M359.6 308.6L362.1 311.0L359.6 313.4L357.2 311.0Z"/>
<circle cx="364.5" cy="309.6" r="2.3"/>
<path d="M365.2 303.7L367.6 306.1L365.2 308.6L362.8 306.1Z"/>
<path d="M359.6 300.9L362.1 303.3L359.6 305.8L357.2 303.3Z"/>
<path d="M362.4 298.8L364.8 301.2L362.4 303.6L359.9 301.2Z"/>
<path d="M368.0 301.6L370.4 304.0L368.0 306.4L365.6 304.0Z"/>
<path d="M368.8 316.4L371.2 318.8L368.8 321.2L366.4 318.8Z"/>
<path d="M371.6 319.2L374.1 321.6L371.6 324.1L369.2 321.6Z"/>
<path d="M372.3 300.2L374.8 302.6L372.3 305.1L369.9 302.6Z"/>
<circle cx="359.6" cy="298.4" r="2.3"/>
<path d="M350.5 300.9L352.9 303.3L350.5 305.8L348.1 303.3Z"/>
<path d="M348.4 295.9L350.8 298.4L348.4 300.8L345.9 298.4Z"/>
<path d="M351.2 321.9L353.6 324.4L351.2 326.8L348.8 324.4Z"/>
<path d="M355.4 321.2L357.8 323.7L355.4 326.1L352.9 323.7Z"/>
<path d="M360.3 325.4L362.8 327.9L360.3 330.3L357.9 327.9Z"/>
<path d="M349.8 326.9L352.2 329.3L349.8 331.8L347.4 329.3Z"/>
<path d="M345.6 330.4L348.1 332.8L345.6 335.2L343.2 332.8Z"/>
</g></svg>
</body></html>
